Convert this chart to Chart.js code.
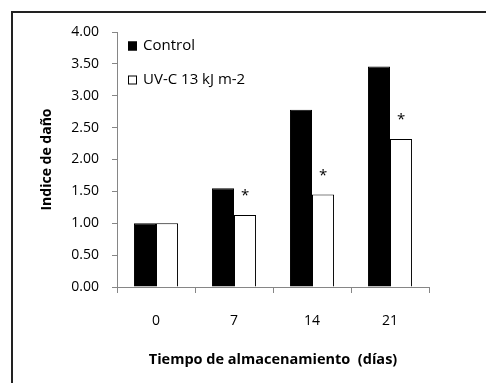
<!DOCTYPE html>
<html lang="es">
<head>
<meta charset="UTF-8">
<title>Indice de daño</title>
<script src="https://cdn.jsdelivr.net/npm/chart.js"></script>
<style>
  body { margin: 0; background: #fff; }
  #wrap { position: relative; width: 486px; height: 383px; overflow: hidden; }
  #marco { position: absolute; left: 11px; top: 11px; width: 600px; height: 500px;
           border-left: 2px solid #222; border-top: 2px solid #222; }
  canvas { position: absolute; left: 0; top: 0; }
</style>
</head>
<body>
<div id="wrap">
  <div id="marco"></div>
  <canvas id="grafico" width="486" height="383"></canvas>
</div>
<script>
// datos
const dias = ['0', '7', '14', '21'];
const control = [1.00, 1.55, 2.78, 3.46];
const uvc = [1.00, 1.13, 1.45, 2.32];
const significativo = [false, true, true, true]; // asterisco sobre UV-C
const ticksY = [0, 0.5, 1, 1.5, 2, 2.5, 3, 3.5, 4];

const fuente = "'Open Sans', sans-serif";
const gris = '#868686';

// asteriscos encima de las barras UV-C
const asteriscos = {
  id: 'asteriscos',
  afterDatasetsDraw(chart) {
    const meta = chart.getDatasetMeta(1);
    const ctx = chart.ctx;
    ctx.save();
    ctx.fillStyle = '#000';
    ctx.font = '15px ' + fuente;
    ctx.textAlign = 'center';
    ctx.textBaseline = 'middle';
    meta.data.forEach((barra, i) => {
      if (significativo[i]) ctx.fillText('*', barra.x, barra.y - 19);
    });
    ctx.restore();
  }
};

// leyenda dentro del area del grafico, arriba a la izquierda
const leyenda = {
  id: 'leyenda',
  afterDraw(chart) {
    const ctx = chart.ctx;
    const area = chart.chartArea;
    ctx.save();
    ctx.font = '15px ' + fuente;
    ctx.textBaseline = 'middle';
    chart.data.datasets.forEach((ds, i) => {
      const x = area.left + 11;
      const y = area.top + 14 + i * 34;
      ctx.fillStyle = ds.backgroundColor;
      ctx.fillRect(x, y - 4.5, 9, 9);
      ctx.strokeStyle = '#000';
      ctx.lineWidth = 1;
      ctx.strokeRect(x + 0.5, y - 4, 8, 8);
      ctx.fillStyle = '#000';
      ctx.fillText(ds.label, x + 15, y);
    });
    ctx.restore();
  }
};

new Chart(document.getElementById('grafico'), {
  type: 'bar',
  data: {
    labels: dias,
    datasets: [
      { label: 'Control', data: control, backgroundColor: '#000', borderColor: '#000', borderWidth: 1 },
      { label: 'UV-C 13 kJ m-2', data: uvc, backgroundColor: '#fff', borderColor: '#000', borderWidth: 1 }
    ]
  },
  options: {
    responsive: false,
    animation: false,
    datasets: { bar: { barPercentage: 1, categoryPercentage: 0.565 } },
    layout: { padding: { top: 32, right: 57, bottom: 10, left: 30 } },
    plugins: {
      tooltip: { enabled: false },
      legend: { display: false }
    },
    scales: {
      x: {
        afterFit(axis) { axis.height = 86; },
        grid: { drawOnChartArea: false, color: gris, tickLength: 6 },
        border: { color: gris, width: 1 },
        ticks: { color: '#000', font: { family: fuente, size: 14 }, padding: 20 },
        title: { display: true, text: 'Tiempo de almacenamiento  (días)', color: '#000',
                 font: { family: fuente, size: 14.5, weight: 'bold' }, padding: { top: 4, bottom: 4 } }
      },
      y: {
        min: 0, max: 4,
        afterFit(axis) { axis.width = 87; },
        afterBuildTicks(axis) { axis.ticks = ticksY.map(v => ({ value: v })); },
        grid: { drawOnChartArea: false, color: gris, tickLength: 5 },
        border: { color: gris, width: 1 },
        ticks: { color: '#000', font: { family: fuente, size: 14 }, padding: 13,
                 callback: v => v.toFixed(2) },
        title: { display: true, text: 'Indice de daño', color: '#000',
                 font: { family: fuente, size: 14, weight: 'bold' }, padding: { top: 9, bottom: 4 } }
      }
    }
  },
  plugins: [asteriscos, leyenda]
});
</script>
</body>
</html>
